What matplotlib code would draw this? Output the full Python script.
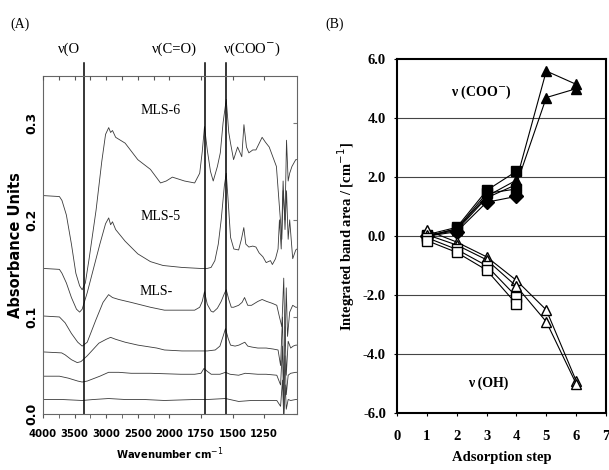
import numpy as np
import matplotlib
matplotlib.use('Agg')
import matplotlib.pyplot as plt
from matplotlib import font_manager

plt.rcParams['axes.unicode_minus'] = False

# ---- panel A: IR spectra, (wavenumber, absorbance) points
mls6_wn = [4000, 3740, 3700, 3630, 3550, 3480, 3420, 3380, 3330, 3270, 3160, 3070, 3010,
           2960, 2930, 2900, 2850, 2700, 2500, 2300, 2140, 2050, 1976, 1880, 1800, 1760,
           1740, 1722, 1700, 1675, 1653, 1620, 1597, 1575, 1550, 1530, 1516, 1492, 1460,
           1427, 1410, 1390, 1371, 1340, 1315, 1266, 1240, 1210, 1153, 1129, 1110, 1100,
           1085, 1073, 1060, 1048, 1030, 1000, 990]
mls6_ab = [0.225, 0.224, 0.220, 0.205, 0.175, 0.145, 0.132, 0.128, 0.135, 0.160, 0.210,
           0.260, 0.288, 0.295, 0.290, 0.292, 0.285, 0.279, 0.262, 0.252, 0.238, 0.240,
           0.244, 0.240, 0.238, 0.248, 0.270, 0.296, 0.272, 0.250, 0.240, 0.255, 0.269,
           0.300, 0.324, 0.290, 0.279, 0.262, 0.275, 0.265, 0.298, 0.275, 0.269, 0.272,
           0.272, 0.285, 0.280, 0.275, 0.255, 0.213, 0.180, 0.230, 0.200, 0.282, 0.240,
           0.248, 0.255, 0.262, 0.262]

mls5_wn = [4000, 3740, 3700, 3630, 3550, 3470, 3420, 3380, 3300, 3200, 3100, 3010, 2960,
           2930, 2900, 2850, 2700, 2500, 2300, 2100, 1900, 1760, 1700, 1670, 1640, 1613,
           1590, 1565, 1550, 1535, 1516, 1490, 1452, 1430, 1411, 1395, 1371, 1340, 1315,
           1290, 1260, 1234, 1200, 1185, 1160, 1140, 1129, 1115, 1100, 1085, 1073, 1060,
           1048, 1024, 1000, 990]
mls5_ab = [0.150, 0.149, 0.145, 0.135, 0.120, 0.108, 0.105, 0.108, 0.125, 0.150, 0.175,
           0.196, 0.202, 0.195, 0.198, 0.190, 0.178, 0.165, 0.157, 0.153, 0.151, 0.150,
           0.150, 0.151, 0.158, 0.175, 0.200, 0.235, 0.248, 0.220, 0.182, 0.170, 0.169,
           0.180, 0.192, 0.175, 0.172, 0.173, 0.172, 0.166, 0.162, 0.156, 0.158, 0.154,
           0.160, 0.170, 0.200, 0.170, 0.240, 0.190, 0.230, 0.180, 0.200, 0.160, 0.169,
           0.170]

mls4_wn = [4000, 3740, 3650, 3550, 3450, 3380, 3300, 3163, 3050, 2962, 2900, 2800, 2605,
           2300, 2078, 1900, 1800, 1760, 1740, 1722, 1700, 1670, 1653, 1620, 1590, 1565,
           1550, 1530, 1510, 1492, 1452, 1425, 1405, 1380, 1350, 1300, 1266, 1230, 1185,
           1150, 1129, 1110, 1095, 1085, 1075, 1065, 1048, 1024, 1000, 990]
mls4_ab = [0.101, 0.100, 0.094, 0.083, 0.074, 0.070, 0.074, 0.097, 0.115, 0.123, 0.120,
           0.118, 0.115, 0.110, 0.107, 0.107, 0.107, 0.110, 0.116, 0.126, 0.113, 0.106,
           0.105, 0.109, 0.116, 0.124, 0.128, 0.118, 0.110, 0.110, 0.112, 0.115, 0.120,
           0.112, 0.112, 0.116, 0.118, 0.116, 0.114, 0.112, 0.100, 0.090, 0.140, 0.070,
           0.130, 0.080, 0.105, 0.112, 0.110, 0.110]

mls3_wn = [4000, 3705, 3650, 3550, 3458, 3400, 3300, 3116, 3000, 2930, 2850, 2700, 2497,
           2200, 2078, 1900, 1774, 1700, 1637, 1600, 1575, 1556, 1535, 1516, 1480, 1450,
           1403, 1380, 1347, 1300, 1234, 1180, 1140, 1120, 1105, 1095, 1085, 1075, 1060,
           1040, 1020, 1000, 990]
mls3_ab = [0.064, 0.063, 0.061, 0.056, 0.053, 0.054, 0.060, 0.073, 0.077, 0.079, 0.077,
           0.074, 0.071, 0.068, 0.066, 0.065, 0.065, 0.065, 0.066, 0.070, 0.080, 0.088,
           0.078, 0.071, 0.070, 0.071, 0.074, 0.070, 0.069, 0.068, 0.068, 0.067, 0.066,
           0.050, 0.100, 0.020, 0.090, 0.040, 0.075, 0.068, 0.070, 0.071, 0.071]

mls2_wn = [4000, 3740, 3600, 3450, 3380, 3300, 3100, 2962, 2800, 2605, 2300, 1911, 1800,
           1750, 1726, 1700, 1669, 1600, 1556, 1520, 1452, 1400, 1300, 1234, 1150, 1120,
           1105, 1095, 1085, 1075, 1060, 1040, 1000, 990]
mls2_ab = [0.039, 0.039, 0.037, 0.034, 0.033, 0.034, 0.039, 0.043, 0.043, 0.042, 0.042,
           0.041, 0.041, 0.042, 0.047, 0.044, 0.041, 0.041, 0.043, 0.041, 0.040, 0.042,
           0.041, 0.041, 0.040, 0.030, 0.070, 0.000, 0.060, 0.020, 0.040, 0.042, 0.043,
           0.043]

mls1_wn = [4000, 3700, 3380, 3200, 2962, 2700, 2400, 2078, 1800, 1700, 1556, 1452, 1350,
           1234, 1150, 1120, 1105, 1095, 1083, 1075, 1060, 1040, 1000, 990]
mls1_ab = [0.015, 0.015, 0.014, 0.015, 0.016, 0.015, 0.015, 0.014, 0.015, 0.015, 0.016,
           0.013, 0.014, 0.014, 0.014, 0.008, 0.035, -0.005, 0.030, 0.005, 0.015, 0.014,
           0.015, 0.015]

band_wn = [3350, 1720, 1550]
band_labels = ['ν(O', 'ν(C=O)', 'ν(COO$^{-}$)']
band_label_wn = [3581, 1960, 1347]

wn_ticks = [4000, 3500, 3000, 2500, 2000, 1750, 1500, 1250]
ab_ticks = [0.0, 0.1, 0.2, 0.3]

# ---- panel B: integrated band areas per adsorption step
steps = [1, 2, 3, 4, 5, 6]
coo_a = [0.00, 0.25, 1.35, 1.90, 5.60, 5.15]
coo_b = [0.00, 0.20, 1.30, 1.75, 4.70, 5.00]
coo_c = [0.05, 0.30, 1.55, 2.20]
coo_d = [0.00, 0.25, 1.45, 1.60]
coo_e = [0.00, 0.15, 1.15, 1.35]
oh_a = [0.20, -0.20, -0.70, -1.50, -2.50, -4.90]
oh_b = [0.05, -0.30, -0.80, -1.70, -2.90, -5.00]
oh_c = [-0.05, -0.45, -1.00, -2.05]
oh_d = [-0.15, -0.55, -1.15, -2.30]


def fwd(w):
    # wavenumber axis is stretched 2x below 2000 cm-1
    w = np.asarray(w, dtype=float)
    return np.where(w >= 2000, 1000 + (w - 2000) / 2, w - 1000)


def inv(f):
    f = np.asarray(f, dtype=float)
    return np.where(f >= 1000, 2000 + (f - 1000) * 2, f + 1000)


def narrow_font():
    for fam in ['Liberation Sans Narrow', 'Arial Narrow']:
        try:
            font_manager.findfont(font_manager.FontProperties(family=fam),
                                  fallback_to_default=False)
            return dict(family=fam), 9
        except ValueError:
            pass
    return dict(family='DejaVu Sans', fontstretch='condensed'), 8


narrow, narrow_size = narrow_font()
serif = 'Liberation Serif'

fig = plt.figure(figsize=(6.09, 4.70), dpi=100)

# ---------------- panel A
ax = fig.add_axes([0.0706, 0.119, 0.4171, 0.719])
ax.set_xscale('function', functions=(fwd, inv))
ax.set_xlim(4000, 990)
ax.set_ylim(0.0, 0.348)
for wn, ab in [(mls6_wn, mls6_ab), (mls5_wn, mls5_ab), (mls4_wn, mls4_ab),
               (mls3_wn, mls3_ab), (mls2_wn, mls2_ab), (mls1_wn, mls1_ab)]:
    ax.plot(wn, ab, color='#3a3a3a', lw=0.6)
for w in band_wn:
    ax.plot([w, w], [0.0, 0.362], color='black', lw=1.1, clip_on=False)
for w, lab in zip(band_label_wn, band_labels):
    ax.text(w, 0.376, lab, ha='center', va='center', family=serif, fontsize=10.5)
ax.text(2140, 0.313, 'MLS-6', ha='center', va='center', family=serif, fontsize=10)
ax.text(2140, 0.203, 'MLS-5', ha='center', va='center', family=serif, fontsize=10)
ax.text(2217, 0.126, 'MLS-', ha='center', va='center', family=serif, fontsize=10)

ax.set_xticks(wn_ticks)
ax.set_xticklabels([str(t) for t in wn_ticks], fontweight='bold',
                   fontsize=narrow_size, **narrow)
ax.set_xticks(list(range(3750, 1999, -250)), minor=True)
ax.tick_params(axis='x', which='both', direction='out', top=False, bottom=True,
               length=3, color='#555555', pad=8)
ax.set_yticks(ab_ticks)
ax.set_yticklabels(['%.1f' % t for t in ab_ticks], rotation=90, va='center',
                   fontweight='bold', fontsize=9)
ax.tick_params(axis='y', direction='in', left=False, right=True, length=3,
               color='#777777', pad=3)
for side in ['top', 'right', 'left', 'bottom']:
    ax.spines[side].set_color('#666666')
    ax.spines[side].set_linewidth(0.8)
ax.spines['top'].set_linestyle((0, (2, 1)))
ax.set_xlabel('Wavenumber cm$^{-1}$', fontweight='bold', fontsize=narrow_size,
              labelpad=4, **narrow)
ax.set_ylabel('Absorbance Units', fontweight='bold', fontsize=10.5, labelpad=2)

# inward ticks along the top edge
tx = ax.twiny()
tx.set_xscale('function', functions=(fwd, inv))
tx.set_xlim(ax.get_xlim())
tx.set_xticks(list(range(4000, 1999, -250)) + [1750, 1500, 1250])
tx.tick_params(axis='x', direction='in', length=3, color='#555555', labeltop=False)
for side in ['top', 'right', 'left', 'bottom']:
    tx.spines[side].set_visible(False)

fig.text(0.033, 0.949, '(A)', family=serif, fontsize=10, ha='center', va='center')

# ---------------- panel B
bx = fig.add_axes([0.652, 0.121, 0.343, 0.753])
bx.set_xlim(0, 7)
bx.set_ylim(-6, 6)
for g in [-4, -2, 0, 2, 4]:
    bx.axhline(g, color='#444444', lw=0.8, zorder=1)
line_kw = dict(color='black', lw=0.8, ms=7, zorder=3)
bx.plot(steps, coo_a, marker='^', mfc='black', mec='black', **line_kw)
bx.plot(steps, coo_b, marker='^', mfc='black', mec='black', **line_kw)
bx.plot(steps[:4], coo_c, marker='s', mfc='black', mec='black', **line_kw)
bx.plot(steps[:4], coo_d, marker='s', mfc='black', mec='black', **line_kw)
bx.plot(steps[:4], coo_e, marker='D', mfc='black', mec='black', **line_kw)
bx.plot(steps, oh_a, marker='^', mfc='white', mec='black', **line_kw)
bx.plot(steps, oh_b, marker='^', mfc='white', mec='black', **line_kw)
bx.plot(steps[:4], oh_c, marker='s', mfc='white', mec='black', **line_kw)
bx.plot(steps[:4], oh_d, marker='s', mfc='white', mec='black', **line_kw)

bx.text(2.82, 4.88, 'ν (COO$^{-}$)', ha='center', va='center', family=serif,
        fontweight='bold', fontsize=10)
bx.text(3.05, -4.98, 'ν (OH)', ha='center', va='center', family=serif,
        fontweight='bold', fontsize=10)

bx.set_xticks(range(0, 8))
bx.set_xticklabels([str(i) for i in range(0, 8)], family=serif, fontweight='bold',
                   fontsize=10.5)
bx.set_yticks(range(-6, 7, 2))
bx.set_yticklabels(['%.1f' % v for v in range(-6, 7, 2)], family=serif,
                   fontweight='bold', fontsize=10.5)
bx.tick_params(axis='y', direction='out', length=2, width=0.8, pad=6)
bx.tick_params(axis='x', direction='out', length=2, width=0.8, pad=10)
for side in ['top', 'right', 'left', 'bottom']:
    bx.spines[side].set_linewidth(1.5)
bx.set_xlabel('Adsorption step', family=serif, fontweight='bold', fontsize=10.5,
              labelpad=6)
bx.set_ylabel('Integrated band area / [cm$^{-1}$]', family=serif, fontweight='bold',
              fontsize=10.5, labelpad=4)
fig.text(0.55, 0.949, '(B)', family=serif, fontsize=10, ha='center', va='center')

fig.savefig('out.png', dpi=100)
